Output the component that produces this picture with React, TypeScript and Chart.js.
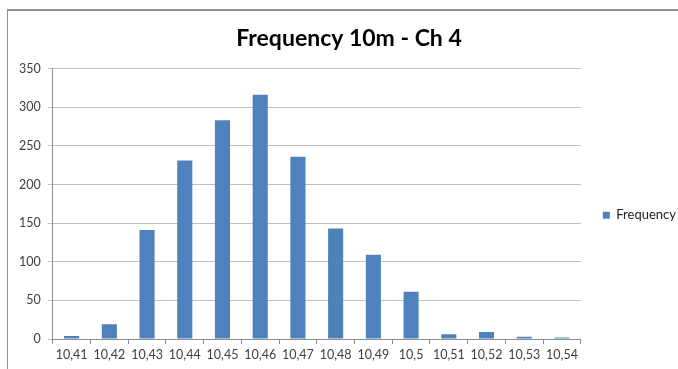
import React, { useEffect, useRef } from "react";
import { Chart, registerables } from "chart.js";

Chart.register(...registerables);

const categories = ["10,41", "10,42", "10,43", "10,44", "10,45", "10,46", "10,47", "10,48", "10,49", "10,5", "10,51", "10,52", "10,53", "10,54"];
const frequency = [4, 19, 141, 231, 283, 316, 236, 143, 109, 61, 6, 9, 3, 2];
const seriesName = "Frequency";
const chartTitle = "Frequency 10m - Ch 4";
const yMin = 0;
const yMax = 350;
const yStep = 50;

const FONT = "Lato, 'Open Sans', sans-serif";

export default function App() {
  const ref = useRef<HTMLCanvasElement | null>(null);
  useEffect(() => {
    if (!ref.current) return;
    const chart = new Chart(ref.current, {
      type: "bar",
      data: {
        labels: categories,
        datasets: [
          {
            label: seriesName,
            data: frequency,
            backgroundColor: "#4f81bd",
            borderWidth: 0,
            barPercentage: 0.4,
            categoryPercentage: 1,
          },
        ],
      },
      options: {
        responsive: false,
        animation: false,
        layout: { padding: { left: 4, right: 0, top: 0, bottom: 4 } },
        plugins: {
          title: {
            display: true,
            text: chartTitle,
            color: "#000",
            font: { family: FONT, size: 23, weight: "bold" },
            padding: { top: 14, bottom: 16 },
          },
          legend: {
            position: "right",
            title: {
              display: true,
              text: " ",
              font: { family: FONT, size: 12 },
              padding: { top: 0, bottom: 40 },
            },
            labels: {
              boxWidth: 7,
              boxHeight: 7,
              padding: 22,
              color: "#222",
              font: { family: FONT, size: 13 },
            },
          },
          tooltip: { enabled: false },
        },
        scales: {
          x: {
            grid: {
              offset: true,
              drawOnChartArea: false,
              drawTicks: true,
              tickLength: 5,
              color: "#8c8c8c",
            },
            border: { display: true, color: "#8c8c8c" },
            ticks: { color: "#404040", font: { family: FONT, size: 12.5 }, padding: 3, maxRotation: 0, autoSkip: false },
          },
          y: {
            min: yMin,
            max: yMax,
            ticks: { stepSize: yStep, color: "#404040", font: { family: FONT, size: 12.5 }, padding: 7 },
            grid: { color: "#bfbfbf", tickLength: 5, drawTicks: true },
            border: { display: true, color: "#8c8c8c" },
          },
        },
      },
    });
    return () => chart.destroy();
  }, []);
  return (
    <div style={{ position: "fixed", left: 0, top: 0, width: 678, height: 369, background: "#fff", overflow: "hidden" }}>
      <div
        style={{
          position: "absolute",
          left: 7,
          top: 9,
          width: 700,
          height: 400,
          borderTop: "2px solid #8f8f8f",
          borderLeft: "1px solid #8f8f8f",
          boxSizing: "border-box",
        }}
      />
      <canvas ref={ref} width={678} height={358} style={{ position: "absolute", left: 8, top: 11 }} />
    </div>
  );
}
